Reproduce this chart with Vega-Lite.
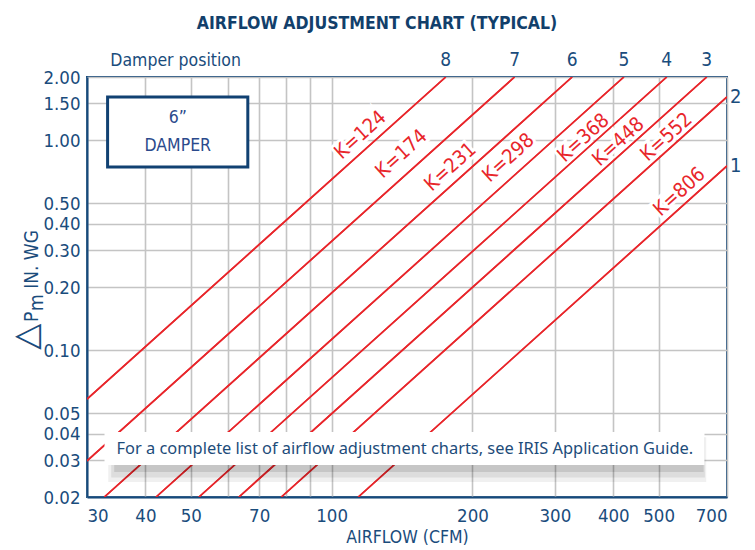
{
  "$schema": "https://vega.github.io/schema/vega-lite/v6.json",
  "width": 640,
  "height": 420,
  "autosize": "none",
  "padding": {"left": 87, "top": 77, "right": 28, "bottom": 53},
  "background": "white",
  "title": {
    "text": "AIRFLOW ADJUSTMENT CHART (TYPICAL)",
    "font": "Liberation Sans Narrow, DejaVu Sans Condensed, sans-serif",
    "fontSize": 17.5,
    "fontWeight": "bold",
    "color": "#123f6b",
    "anchor": "middle",
    "dx": -30,
    "offset": 19
  },
  "config": {
    "view": {"stroke": "#164a7c", "strokeWidth": 2},
    "axis": {
      "labelFont": "Liberation Sans Narrow, DejaVu Sans Condensed, sans-serif",
      "labelFontSize": 18.5,
      "labelColor": "#1a4c7c",
      "labelOverlap": false,
      "ticks": false,
      "domainColor": "#164a7c",
      "domainWidth": 2,
      "gridColor": "#c4c4c4",
      "gridWidth": 1.6,
      "titleFont": "Liberation Sans Narrow, DejaVu Sans Condensed, sans-serif",
      "titleFontSize": 17.5,
      "titleFontWeight": "normal",
      "titleColor": "#1a4c7c"
    }
  },
  "datasets": {
    "lines": [
      {"K": 124, "cfm": 30, "dp": 0.0585},
      {"K": 124, "cfm": 175.4, "dp": 2, "pos": "8"},
      {"K": 174, "cfm": 30, "dp": 0.0297},
      {"K": 174, "cfm": 246.1, "dp": 2, "pos": "7"},
      {"K": 231, "cfm": 32.67, "dp": 0.02},
      {"K": 231, "cfm": 326.7, "dp": 2, "pos": "6"},
      {"K": 298, "cfm": 42.14, "dp": 0.02},
      {"K": 298, "cfm": 421.4, "dp": 2, "pos": "5"},
      {"K": 368, "cfm": 52.04, "dp": 0.02},
      {"K": 368, "cfm": 520.4, "dp": 2, "pos": "4"},
      {"K": 448, "cfm": 63.36, "dp": 0.02},
      {"K": 448, "cfm": 633.6, "dp": 2, "pos": "3"},
      {"K": 552, "cfm": 78.06, "dp": 0.02},
      {"K": 552, "cfm": 700, "dp": 1.608, "pos": "2"},
      {"K": 806, "cfm": 113.99, "dp": 0.02},
      {"K": 806, "cfm": 700, "dp": 0.7542, "pos": "1"}
    ],
    "klabels": [
      {"label": "K=124", "cfm": 115.3, "dp": 1.059},
      {"label": "K=174", "cfm": 141.1, "dp": 0.86},
      {"label": "K=231", "cfm": 179.6, "dp": 0.745},
      {"label": "K=298", "cfm": 238.9, "dp": 0.823},
      {"label": "K=368", "cfm": 345.5, "dp": 1.024},
      {"label": "K=448", "cfm": 410.5, "dp": 0.981},
      {"label": "K=552", "cfm": 519.8, "dp": 1.036},
      {"label": "K=806", "cfm": 554.1, "dp": 0.567}
    ]
  },
  "layer": [
    {
      "data": {"name": "lines"},
      "mark": {"type": "line", "color": "#e8262b", "strokeWidth": 1.6, "clip": true},
      "encoding": {
        "x": {
          "field": "cfm", "type": "quantitative",
          "scale": {"type": "log", "domain": [30, 700], "nice": false},
          "axis": {
            "title": "AIRFLOW (CFM)",
            "values": [30, 40, 50, 60, 70, 80, 90, 100, 200, 300, 400, 500, 700],
            "labelExpr": "indexof([60, 80, 90], datum.value) >= 0 ? '' : datum.value",
            "labelPadding": 9,
            "labelFlush": true,
            "titlePadding": 4
          }
        },
        "y": {
          "field": "dp", "type": "quantitative",
          "scale": {"type": "log", "domain": [0.02, 2], "nice": false},
          "axis": {
            "title": null,
            "values": [0.02, 0.03, 0.04, 0.05, 0.1, 0.2, 0.3, 0.4, 0.5, 1, 1.5, 2],
            "format": ".2f",
            "labelPadding": 7
          }
        },
        "detail": {"field": "K", "type": "nominal"}
      }
    },
    {
      "data": {"name": "klabels"},
      "mark": {"type": "text", "angle": -42, "align": "center", "baseline": "middle", "font": "Liberation Sans Narrow, DejaVu Sans Condensed, sans-serif", "fontSize": 20, "fill": "white", "stroke": "white", "strokeWidth": 6},
      "encoding": {
        "x": {"field": "cfm", "type": "quantitative"},
        "y": {"field": "dp", "type": "quantitative"},
        "text": {"field": "label"}
      }
    },
    {
      "data": {"name": "lines"},
      "mark": {"type": "line", "color": "#e8262b", "strokeWidth": 1.6, "clip": true},
      "encoding": {
        "x": {"field": "cfm", "type": "quantitative"},
        "y": {"field": "dp", "type": "quantitative"},
        "detail": {"field": "K", "type": "nominal"}
      }
    },
    {
      "data": {"name": "klabels"},
      "mark": {"type": "text", "angle": -42, "align": "center", "baseline": "middle", "font": "Liberation Sans Narrow, DejaVu Sans Condensed, sans-serif", "fontSize": 20, "color": "#e8262b"},
      "encoding": {
        "x": {"field": "cfm", "type": "quantitative"},
        "y": {"field": "dp", "type": "quantitative"},
        "text": {"field": "label"}
      }
    },
    {
      "data": {"name": "lines"},
      "transform": [{"filter": "datum.pos && datum.dp >= 2"}],
      "mark": {"type": "text", "align": "center", "baseline": "alphabetic", "dy": -11, "font": "Liberation Sans Narrow, DejaVu Sans Condensed, sans-serif", "fontSize": 19, "color": "#1a4c7c"},
      "encoding": {
        "x": {"field": "cfm", "type": "quantitative"},
        "y": {"field": "dp", "type": "quantitative"},
        "text": {"field": "pos"}
      }
    },
    {
      "data": {"name": "lines"},
      "transform": [{"filter": "datum.pos && datum.dp < 2"}],
      "mark": {"type": "text", "align": "left", "baseline": "middle", "dx": 3, "font": "Liberation Sans Narrow, DejaVu Sans Condensed, sans-serif", "fontSize": 20, "color": "#1a4c7c"},
      "encoding": {
        "x": {"field": "cfm", "type": "quantitative"},
        "y": {"field": "dp", "type": "quantitative"},
        "text": {"field": "pos"}
      }
    },
    {
      "data": {"values": [{}]},
      "mark": {"type": "text", "align": "center", "baseline": "alphabetic", "dy": -11, "font": "Liberation Sans Narrow, DejaVu Sans Condensed, sans-serif", "fontSize": 17.5, "color": "#1a4c7c", "text": "Damper position"},
      "encoding": {"x": {"datum": 46.4}, "y": {"datum": 2}}
    },
    {
      "data": {"values": [{}]},
      "mark": {"type": "rect", "fill": "white", "stroke": "#114172", "strokeWidth": 3},
      "encoding": {"x": {"datum": 33.2}, "x2": {"datum": 66.2}, "y": {"datum": 1.606}, "y2": {"datum": 0.7455}}
    },
    {
      "data": {"values": [{}]},
      "mark": {"type": "text", "align": "center", "baseline": "middle", "font": "Liberation Sans Narrow, DejaVu Sans Condensed, sans-serif", "fontSize": 17.5, "color": "#2b4a8c", "text": "6”"},
      "encoding": {"x": {"datum": 46.9}, "y": {"datum": 1.27}}
    },
    {
      "data": {"values": [{}]},
      "mark": {"type": "text", "align": "center", "baseline": "middle", "font": "Liberation Sans Narrow, DejaVu Sans Condensed, sans-serif", "fontSize": 17.5, "color": "#2b4a8c", "text": "DAMPER"},
      "encoding": {"x": {"datum": 46.9}, "y": {"datum": 0.938}}
    },
    {
      "data": {"values": [{}]},
      "mark": {"type": "rect", "fill": "#000000", "opacity": 0.06},
      "encoding": {"x": {"datum": 33.3}, "x2": {"datum": 632}, "y": {"datum": 0.0385}, "y2": {"datum": 0.0236}}
    },
    {
      "data": {"values": [{}]},
      "mark": {"type": "rect", "fill": "#000000", "opacity": 0.08},
      "encoding": {"x": {"datum": 33.8}, "x2": {"datum": 628}, "y": {"datum": 0.0385}, "y2": {"datum": 0.0248}}
    },
    {
      "data": {"values": [{}]},
      "mark": {"type": "rect", "fill": "#000000", "opacity": 0.1},
      "encoding": {"x": {"datum": 34.3}, "x2": {"datum": 624}, "y": {"datum": 0.0385}, "y2": {"datum": 0.0263}}
    },
    {
      "data": {"values": [{}]},
      "mark": {"type": "rect", "fill": "white"},
      "encoding": {"x": {"datum": 32.7}, "x2": {"datum": 626.6}, "y": {"datum": 0.04078}, "y2": {"datum": 0.02841}}
    },
    {
      "data": {"values": [{}]},
      "mark": {"type": "text", "align": "left", "baseline": "middle", "font": "Noto Sans, Open Sans, sans-serif", "fontSize": 16.4, "color": "#1d4c7a", "text": "For a complete list of airflow adjustment charts, see IRIS Application Guide."},
      "encoding": {"x": {"datum": 34.7}, "y": {"datum": 0.03385}}
    },
    {
      "data": {"values": [{}]},
      "mark": {"type": "text", "align": "center", "baseline": "middle", "angle": -90, "font": "DejaVu Sans, sans-serif", "fontSize": 34, "color": "#1a4c7c", "text": "△"},
      "encoding": {"x": {"datum": 22.3}, "y": {"datum": 0.1160}}
    },
    {
      "data": {"values": [{}]},
      "mark": {"type": "text", "align": "left", "baseline": "alphabetic", "angle": -90, "font": "Liberation Sans Narrow, DejaVu Sans Condensed, sans-serif", "fontSize": 19, "color": "#1a4c7c", "text": "P"},
      "encoding": {"x": {"datum": 23.57}, "y": {"datum": 0.1363}}
    },
    {
      "data": {"values": [{}]},
      "mark": {"type": "text", "align": "left", "baseline": "alphabetic", "angle": -90, "font": "Liberation Sans Narrow, DejaVu Sans Condensed, sans-serif", "fontSize": 19, "color": "#1a4c7c", "text": "m"},
      "encoding": {"x": {"datum": 24.16}, "y": {"datum": 0.1537}}
    },
    {
      "data": {"values": [{}]},
      "mark": {"type": "text", "align": "left", "baseline": "alphabetic", "angle": -90, "font": "Liberation Sans Narrow, DejaVu Sans Condensed, sans-serif", "fontSize": 19, "color": "#1a4c7c", "text": "IN. WG"},
      "encoding": {"x": {"datum": 23.57}, "y": {"datum": 0.1960}}
    }
  ]
}
